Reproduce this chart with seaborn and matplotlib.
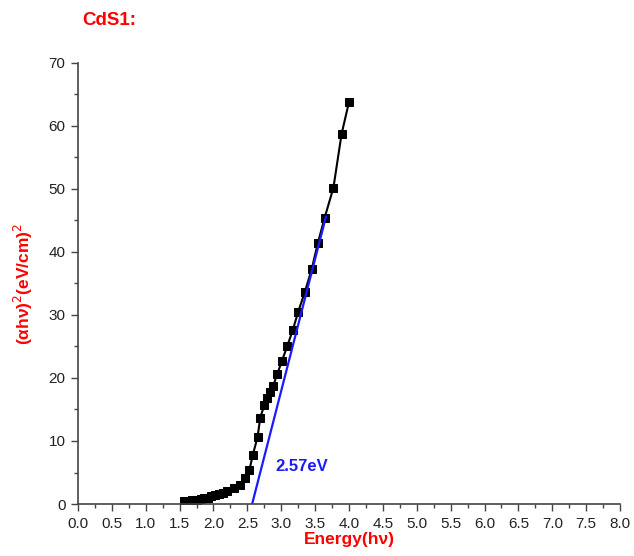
import matplotlib
matplotlib.use("Agg")
import matplotlib.pyplot as plt
import seaborn as sns
import numpy as np
import pandas as pd
from matplotlib.ticker import MultipleLocator

energy = [1.56, 1.62, 1.68, 1.75, 1.81, 1.86, 1.92, 1.97, 2.02, 2.08, 2.14, 2.20,
          2.30, 2.39, 2.46, 2.53, 2.58, 2.65, 2.69, 2.75, 2.79, 2.84, 2.88, 2.94,
          3.01, 3.09, 3.17, 3.25, 3.35, 3.45, 3.54, 3.64, 3.77, 3.89, 4.00]
absorb = [0.4, 0.5, 0.6, 0.7, 0.8, 0.9, 1.0, 1.2, 1.4, 1.6, 1.8, 2.0,
          2.5, 3.0, 4.1, 5.4, 7.8, 10.6, 13.7, 15.7, 16.8, 17.8, 18.7, 20.6,
          22.7, 25.1, 27.6, 30.5, 33.7, 37.3, 41.4, 45.4, 50.2, 58.7, 63.8]
fit_x = [2.57, 3.66]
fit_y = [0.0, 45.6]
gap_label = "2.57eV"

sns.set_style("ticks")
plt.rcParams['font.family'] = ['Liberation Sans', 'DejaVu Sans']

fig = plt.figure(figsize=(6.34, 5.56), dpi=100)
ax = fig.add_axes([0.123, 0.0935, 0.855, 0.7935])

df = pd.DataFrame({"E": energy, "A": absorb})
sns.lineplot(data=df, x="E", y="A", ax=ax, color="black", marker="s",
             markersize=5.5, markeredgecolor="black", linewidth=1.5)
sns.lineplot(x=fit_x, y=fit_y, ax=ax, color="#1a1aff", linewidth=1.6)

ax.text(2.92, 6.0, gap_label, color="#1a1aff", fontsize=12, fontweight="bold",
        va="center", ha="left")

ax.set_xlim(0, 8.0)
ax.set_ylim(0, 70)
ax.xaxis.set_major_locator(MultipleLocator(0.5))
ax.xaxis.set_minor_locator(MultipleLocator(0.25))
ax.yaxis.set_major_locator(MultipleLocator(10))
ax.yaxis.set_minor_locator(MultipleLocator(5))
ax.set_xticklabels([f"{v:.1f}" for v in ax.get_xticks()])
ax.tick_params(which="major", direction="out", length=5, width=1, labelsize=11,
               colors="#444444", pad=4)
ax.tick_params(which="minor", direction="out", length=3, width=1, colors="#444444")
ax.tick_params(axis="both", labelcolor="#222222")
sns.despine(ax=ax)
for s in ["left", "bottom"]:
    ax.spines[s].set_linewidth(1.2)
    ax.spines[s].set_color("#444444")

ax.set_xlabel("Energy(hν)", color="red", fontsize=12.5, fontweight="bold", labelpad=1)
ax.set_ylabel("(αhν)$^2$(eV/cm)$^2$", color="red", fontsize=12.5, fontweight="bold", labelpad=10)
fig.text(0.13, 0.964, "CdS1:", color="red", fontsize=13.5, fontweight="bold", va="center", ha="left")

fig.savefig("out.png", dpi=100)
